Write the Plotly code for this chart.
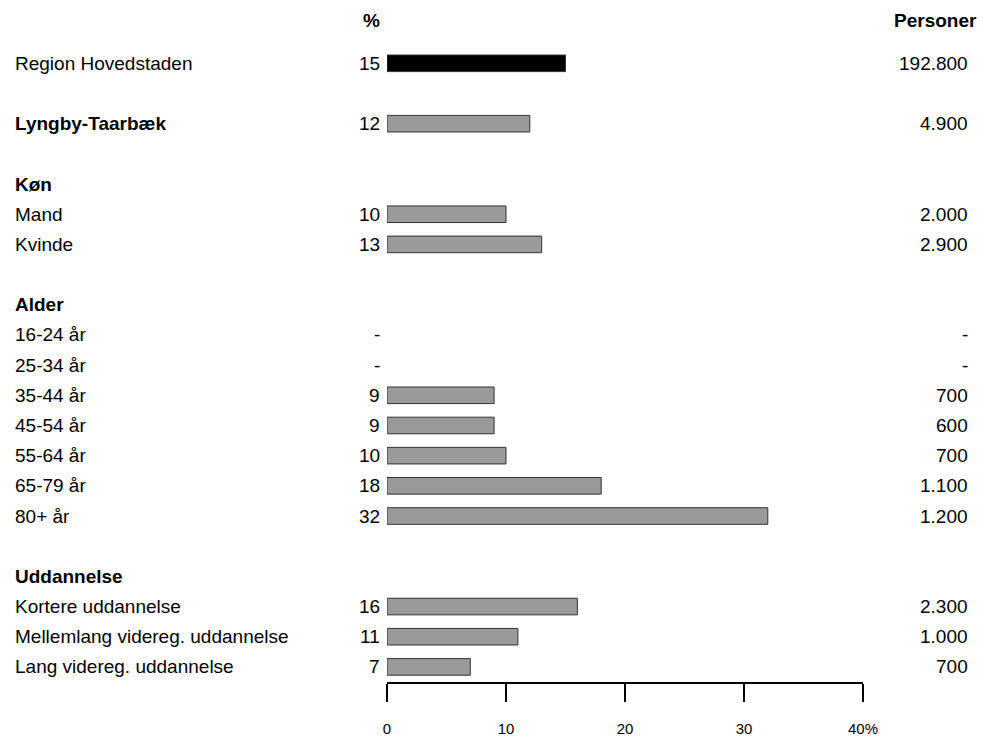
import plotly.graph_objects as go

# ---- data ----
labels = ["Region Hovedstaden", "Lyngby-Taarbæk", "Køn", "Mand", "Kvinde",
          "Alder", "16-24 år", "25-34 år", "35-44 år", "45-54 år", "55-64 år",
          "65-79 år", "80+ år", "Uddannelse", "Kortere uddannelse",
          "Mellemlang videreg. uddannelse", "Lang videreg. uddannelse"]
kinds = ["total", "kommune", "header", "row", "row",
         "header", "row", "row", "row", "row", "row",
         "row", "row", "header", "row", "row", "row"]
pct = [15, 12, None, 10, 13,
       None, None, None, 9, 9, 10,
       18, 32, None, 16, 11, 7]
persons = ["192.800", "4.900", "", "2.000", "2.900",
           "", "-", "-", "700", "600", "700",
           "1.100", "1.200", "", "2.300", "1.000", "700"]
gap_after = {"Region Hovedstaden", "Lyngby-Taarbæk", "Kvinde", "80+ år"}
x_ticks = [0, 10, 20, 30, 40]
x_ticktext = ["0", "10", "20", "30", "40%"]
header_pct = "%"
header_persons = "Personer"

# ---- row positions (top row highest) ----
rows = []
pos = 0
for lab in reversed(labels):
    if lab in gap_after:
        pos += 1
    rows.append(pos)
    pos += 1
rows = list(reversed(rows))
top = rows[0]

FONT = "Liberation Sans, Arial, sans-serif"
FS = 19

bar_y, bar_x, bar_col = [], [], []
for r, v, k in zip(rows, pct, kinds):
    if v is not None:
        bar_y.append(r)
        bar_x.append(v)
        bar_col.append("#000000" if k == "total" else "#9a9a9a")

fig = go.Figure(go.Bar(
    x=bar_x, y=bar_y, orientation="h", width=0.55,
    marker=dict(color=bar_col, line=dict(color="#333333", width=1)),
    hoverinfo="skip",
))

PX_L, PX_R = 387, 863
def paper_x(px):
    return (px - PX_L) / (PX_R - PX_L)

annotations = []
for lab, r, k, v, p in zip(labels, rows, kinds, pct, persons):
    bold = k in ("kommune", "header")
    annotations.append(dict(
        x=paper_x(13), xref="paper", y=r, yref="y", text=f"<b>{lab}</b>" if bold else lab,
        xanchor="left", yanchor="middle", showarrow=False,
        font=dict(family=FONT, size=FS, color="black")))
    if k != "header":
        annotations.append(dict(
            x=0, xref="x", y=r, yref="y", text=str(v) if v is not None else "-",
            xanchor="right", yanchor="middle", xshift=-5, showarrow=False,
            font=dict(family=FONT, size=FS, color="black")))
        annotations.append(dict(
            x=paper_x(970), xref="paper", y=r, yref="y", text=p,
            xanchor="right", yanchor="middle", showarrow=False,
            font=dict(family=FONT, size=FS, color="black")))

annotations.append(dict(
    x=paper_x(371), xref="paper", y=(700 - 21) / 680, yref="paper", text=f"<b>{header_pct}</b>",
    xanchor="center", yanchor="middle", showarrow=False,
    font=dict(family=FONT, size=FS, color="black")))
annotations.append(dict(
    x=paper_x(979), xref="paper", y=(700 - 21) / 680, yref="paper", text=f"<b>{header_persons}</b>",
    xanchor="right", yanchor="middle", showarrow=False,
    font=dict(family=FONT, size=FS, color="black")))

fig.update_layout(
    width=983, height=749, autosize=False,
    margin=dict(l=PX_L, r=983 - PX_R, t=20, b=49, pad=0),
    paper_bgcolor="white", plot_bgcolor="white",
    showlegend=False,
    annotations=annotations,
    xaxis=dict(range=[0, 40], tickvals=x_ticks, ticktext=x_ticktext,
               ticks="outside", ticklen=18, tickwidth=2, tickcolor="black",
               showline=True, linewidth=2, linecolor="black",
               showgrid=False, zeroline=False, fixedrange=True,
               ticklabelstandoff=14,
               tickfont=dict(family=FONT, size=15, color="black")),
    yaxis=dict(range=[-0.5, -0.5 + 680 / 31], visible=False, fixedrange=True),
)

fig.write_html("out.html")
